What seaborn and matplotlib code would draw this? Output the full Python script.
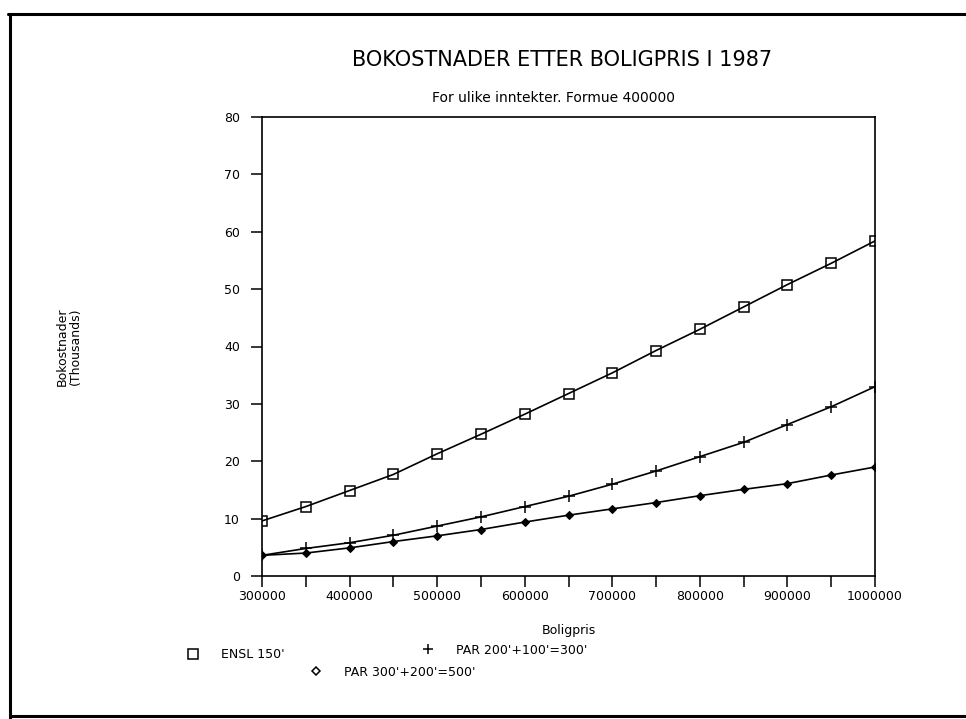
import matplotlib
matplotlib.use("Agg")
import matplotlib.pyplot as plt
from matplotlib.lines import Line2D
import seaborn as sns
import pandas as pd

# ---- data ----
boligpris = [300000, 350000, 400000, 450000, 500000, 550000, 600000, 650000,
             700000, 750000, 800000, 850000, 900000, 950000, 1000000]
ensl_150 = [9.6, 12.1, 14.9, 17.7, 21.3, 24.7, 28.2, 31.8, 35.4, 39.3, 43.0,
            46.9, 50.8, 54.5, 58.4]
par_200_100 = [3.6, 4.8, 5.8, 7.1, 8.7, 10.3, 12.1, 13.9, 16.0, 18.3, 20.8,
               23.3, 26.4, 29.5, 33.0]
par_300_200 = [3.6, 4.0, 4.9, 6.0, 7.0, 8.1, 9.4, 10.6, 11.7, 12.8, 14.0,
               15.1, 16.1, 17.6, 19.0]
series_labels = ["ENSL 150'", "PAR 200'+100'=300'", "PAR 300'+200'=500'"]
y_ticks = [0, 10, 20, 30, 40, 50, 60, 70, 80]

title = "BOKOSTNADER ETTER BOLIGPRIS I 1987"
subtitle = "For ulike inntekter. Formue 400000"

df = pd.DataFrame({"Boligpris": boligpris, "ensl": ensl_150,
                   "par1": par_200_100, "par2": par_300_200})

sns.set_theme(style="ticks")
plt.rcParams["font.family"] = ["DejaVu Sans"]
plt.rcParams["text.color"] = "black"
plt.rcParams["axes.labelcolor"] = "black"

W, H = 966, 719
fig = plt.figure(figsize=(W / 100, H / 100), dpi=100)
fig.patch.set_facecolor("white")
ax = fig.add_axes([262 / W, 1 - 576 / H, (875 - 262) / W, (576 - 117) / H])

lw = 1.2
sns.lineplot(data=df, x="Boligpris", y="ensl", ax=ax, color="black", lw=lw,
             marker="s", markersize=7, markerfacecolor="none",
             markeredgecolor="black", markeredgewidth=1.1)
sns.lineplot(data=df, x="Boligpris", y="par1", ax=ax, color="black", lw=lw,
             marker="+", markersize=8, markeredgecolor="black",
             markeredgewidth=1.1)
sns.lineplot(data=df, x="Boligpris", y="par2", ax=ax, color="black", lw=lw,
             marker="D", markersize=4.5, markerfacecolor="black",
             markeredgecolor="black")

ax.set_xlim(300000, 1000000)
ax.set_ylim(0, 80)
ax.set_xticks(boligpris)
ax.set_xticklabels([str(v) if v % 100000 == 0 else "" for v in boligpris])
ax.set_yticks(y_ticks)
ax.set_yticklabels([str(v) for v in y_ticks])
ax.tick_params(axis="both", direction="out", length=8, width=1.1,
               color="black", labelsize=9, labelcolor="black")
ax.tick_params(axis="x", pad=2)
ax.tick_params(axis="y", pad=8)
for sp in ax.spines.values():
    sp.set_visible(True)
    sp.set_color("black")
    sp.set_linewidth(1.2)

ax.set_xlabel("Boligpris", fontsize=9, color="black")
ax.xaxis.set_label_coords(0.5, -0.105)
ax.set_ylabel("Bokostnader\n(Thousands)", fontsize=9, color="black",
              linespacing=1.0)
ax.yaxis.set_label_coords(-0.294, 0.5)

fig.text(562 / W, 1 - 60 / H, title, ha="center", va="center", fontsize=15,
         color="black")
fig.text(553 / W, 1 - 98 / H, subtitle, ha="center", va="center",
         fontsize=10, color="black")

# legend entries (plotter style, irregular placement)
handles = [
    Line2D([], [], ls="none", marker="s", markersize=7, markerfacecolor="none",
           markeredgecolor="black", markeredgewidth=1.1),
    Line2D([], [], ls="none", marker="+", markersize=7, markeredgecolor="black",
           markeredgewidth=1.1),
    Line2D([], [], ls="none", marker="D", markersize=4.5,
           markerfacecolor="none", markeredgecolor="black",
           markeredgewidth=1.1),
]
anchors = [(187, 655), (422, 650), (310, 672)]
for h, lab, (px, py) in zip(handles, series_labels, anchors):
    fig.legend(handles=[h], labels=[lab], loc="center left",
               bbox_to_anchor=(px / W, 1 - py / H), frameon=False,
               borderpad=0, borderaxespad=0, handlelength=1.0,
               handletextpad=1.7, fontsize=9, labelcolor="black")

# page frame
frame_kw = dict(transform=fig.transFigure, color="black", lw=2.2)
fig.add_artist(Line2D([10 / W, 10 / W], [1 - 14 / H, 0], **frame_kw))
fig.add_artist(Line2D([8 / W, 1], [1 - 14 / H, 1 - 14 / H], **frame_kw))
fig.add_artist(Line2D([10 / W, 1], [1 - 716 / H, 1 - 716 / H], **frame_kw))

fig.savefig("out.png", dpi=100)
